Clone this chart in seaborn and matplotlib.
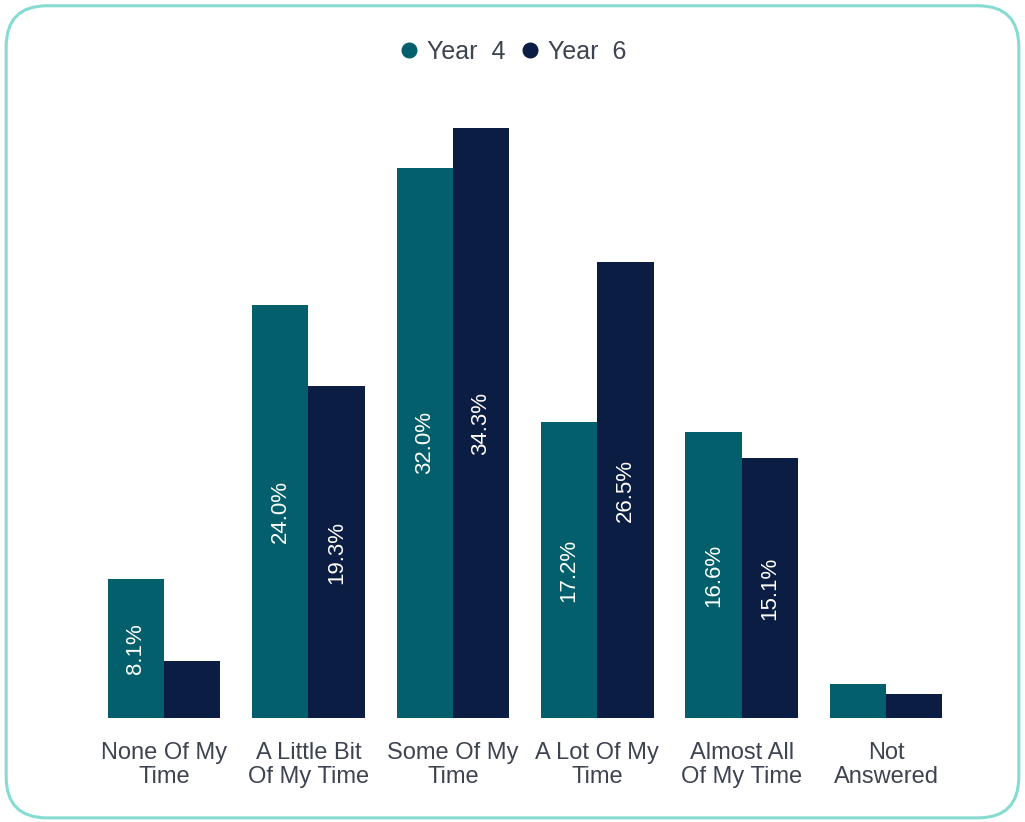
import matplotlib
matplotlib.use("Agg")
import matplotlib.pyplot as plt
from matplotlib.patches import FancyBboxPatch
from matplotlib.lines import Line2D
import seaborn as sns
import pandas as pd

categories = ["None Of My\nTime", "A Little Bit\nOf My Time", "Some Of My\nTime",
              "A Lot Of My\nTime", "Almost All\nOf My Time", "Not\nAnswered"]
year4 = [8.1, 24.0, 32.0, 17.2, 16.6, 2.0]
year6 = [3.3, 19.3, 34.3, 26.5, 15.1, 1.4]
series = ["Year  4", "Year  6"]
colors = ["#025f6b", "#0b1d42"]

df = pd.DataFrame({
    "category": categories * 2,
    "value": year4 + year6,
    "group": [series[0]] * len(categories) + [series[1]] * len(categories),
})

sns.set_theme(style="white")
plt.rcParams["font.family"] = ["Liberation Sans", "DejaVu Sans"]

fig = plt.figure(figsize=(10.25, 8.22), dpi=100)
ax = fig.add_axes([0.0896, 0.1265, 0.8453, 0.7533])

sns.barplot(data=df, x="category", y="value", hue="group", order=categories,
            hue_order=series, palette=colors, width=0.78, gap=0,
            saturation=1, ax=ax, legend=False, linewidth=0)

for cont in ax.containers:
    labels = [f"{b.get_height():.1f}%" if b.get_height() >= 5 else "" for b in cont]
    ax.bar_label(cont, labels=labels, label_type="center", rotation=90,
                 color="white", fontsize=16)

ax.set_xlim(-0.5, 5.5)
ax.set_ylim(0, 36)
ax.set_xlabel("")
ax.set_ylabel("")
ax.set_yticks([])
for s in ax.spines.values():
    s.set_visible(False)
ax.tick_params(axis="x", length=0, pad=17, labelsize=17, labelcolor="#3d4350")
for t in ax.get_xticklabels():
    t.set_linespacing(1.12)

handles = [Line2D([0], [0], marker="o", linestyle="", markersize=10.5,
                  markerfacecolor=c, markeredgecolor=c) for c in colors]
fig.legend(handles, series, loc="center", bbox_to_anchor=(0.499, 0.937),
           ncol=2, frameon=False, fontsize=18, handlelength=1.0,
           handletextpad=0.2, columnspacing=0.5, labelcolor="#3d4350")

border = FancyBboxPatch((0.006, 0.005), 0.988, 0.988,
                        boxstyle="round,pad=0,rounding_size=0.04",
                        transform=fig.transFigure, fill=False,
                        edgecolor="#86dcd2", linewidth=2.2, mutation_aspect=1.25)
fig.patches.append(border)

fig.savefig("out.png", dpi=100)
